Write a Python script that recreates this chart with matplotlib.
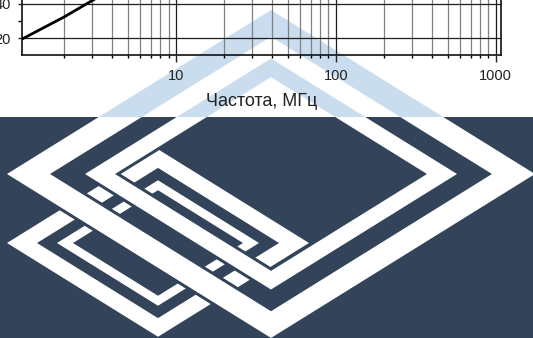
import matplotlib
matplotlib.use("Agg")
import matplotlib.pyplot as plt
from matplotlib.patches import PathPatch, Rectangle
from matplotlib.path import Path
from matplotlib.ticker import LogLocator, NullFormatter, FixedLocator

# chart data (only the lower-left corner of the curve is visible)
freq_mhz = [1.09, 2.0, 3.0, 3.6]
level = [19.5, 32.3, 41.8, 45.8]
x_ticks = [10, 100, 1000]
x_tick_labels = ["10", "100", "1000"]
y_ticks = [20, 40]
y_minor_ticks = [30]
x_label = "Частота, МГц"

W, H = 533, 338
NAVY = "#33445a"
PALE = "#c9ddef"
SLOPE = 0.621
FOOTER_TOP = 117

# logo rhombus bands: centre x, centre y, outer half-width, inner half-width
big_bands = [(271, 174, 264, 221), (271, 174, 186, 156)]
small_bands = [(158, 243, 151, 121), (158, 243, 101, 85)]

plt.rcParams["font.family"] = ["Liberation Sans", "DejaVu Sans"]


def band_path(cx, cy, a_out, a_in):
    b_out, b_in = a_out * SLOPE, a_in * SLOPE
    outer = [(cx - a_out, cy), (cx, cy - b_out), (cx + a_out, cy), (cx, cy + b_out), (cx - a_out, cy)]
    inner = [(cx - a_in, cy), (cx, cy + b_in), (cx + a_in, cy), (cx, cy - b_in), (cx - a_in, cy)]
    codes = [Path.MOVETO, Path.LINETO, Path.LINETO, Path.LINETO, Path.CLOSEPOLY] * 2
    return Path(outer + inner, codes)


def draw_band(ax, band, color, clip, gap=0.0):
    cx, cy, a_out, a_in = band
    if gap:
        halo = PathPatch(band_path(cx, cy, a_out + 1.9 * gap, a_in - 1.9 * gap),
                         facecolor=NAVY, edgecolor="none")
        ax.add_patch(halo)
        halo.set_clip_path(clip)
    p = PathPatch(band_path(cx, cy, a_out, a_in), facecolor=color, edgecolor="none")
    ax.add_patch(p)
    p.set_clip_path(clip)


fig = plt.figure(figsize=(W / 100, H / 100), dpi=100)

# background layer: watermark + navy footer with logo
bg = fig.add_axes([0, 0, 1, 1], zorder=0)
bg.set_xlim(0, W)
bg.set_ylim(H, 0)
bg.axis("off")

top_clip = Rectangle((0, 0), W, FOOTER_TOP, transform=bg.transData)
bot_clip = Rectangle((0, FOOTER_TOP), W, H - FOOTER_TOP, transform=bg.transData)

for band in small_bands + big_bands:
    draw_band(bg, band, PALE, top_clip)

bg.add_patch(Rectangle((0, FOOTER_TOP), W, H - FOOTER_TOP, facecolor=NAVY, edgecolor="none"))
for band in small_bands:
    draw_band(bg, band, "white", bot_clip)
for band in big_bands:
    draw_band(bg, band, "white", bot_clip, gap=3)

# chart
ymin, ymax = 10.3, 60
px_per_unit = 34.6 / 20
h_px = (ymax - ymin) * px_per_unit
ax = fig.add_axes([22 / W, 1 - 55 / H, (501 - 22) / W, h_px / H], zorder=1)
ax.patch.set_alpha(0)
ax.set_xscale("log")
ax.set_xlim(1.09, 1080)
ax.set_ylim(ymin, ymax)

ax.plot(freq_mhz, level, color="black", lw=2.0, solid_capstyle="butt", zorder=3)

ax.xaxis.set_major_locator(FixedLocator(x_ticks))
ax.set_xticklabels(x_tick_labels)
ax.xaxis.set_minor_locator(LogLocator(base=10, subs=range(2, 10)))
ax.xaxis.set_minor_formatter(NullFormatter())
ax.yaxis.set_major_locator(FixedLocator(y_ticks))
ax.yaxis.set_minor_locator(FixedLocator(y_minor_ticks))

ax.grid(which="major", axis="both", color="#1e1e1e", lw=0.9)
ax.grid(which="minor", axis="x", color="#808080", lw=0.9)
ax.set_axisbelow(True)

ax.tick_params(axis="x", which="major", direction="out", length=5, width=1, pad=5,
               labelsize=10.5, colors="#222222")
ax.tick_params(axis="x", which="minor", direction="out", length=2.5, width=1)
ax.tick_params(axis="y", which="major", direction="out", length=3, width=1, pad=5,
               labelsize=10.5, colors="#222222")
ax.tick_params(axis="y", which="minor", direction="out", length=3, width=1)
for side in ("left", "bottom", "right", "top"):
    ax.spines[side].set_linewidth(1.2)
    ax.spines[side].set_color("#111111")

fig.text(262 / W, 1 - 102 / H, x_label, ha="center", va="center", fontsize=13, color="#222222")

fig.savefig("out.png", dpi=100)
